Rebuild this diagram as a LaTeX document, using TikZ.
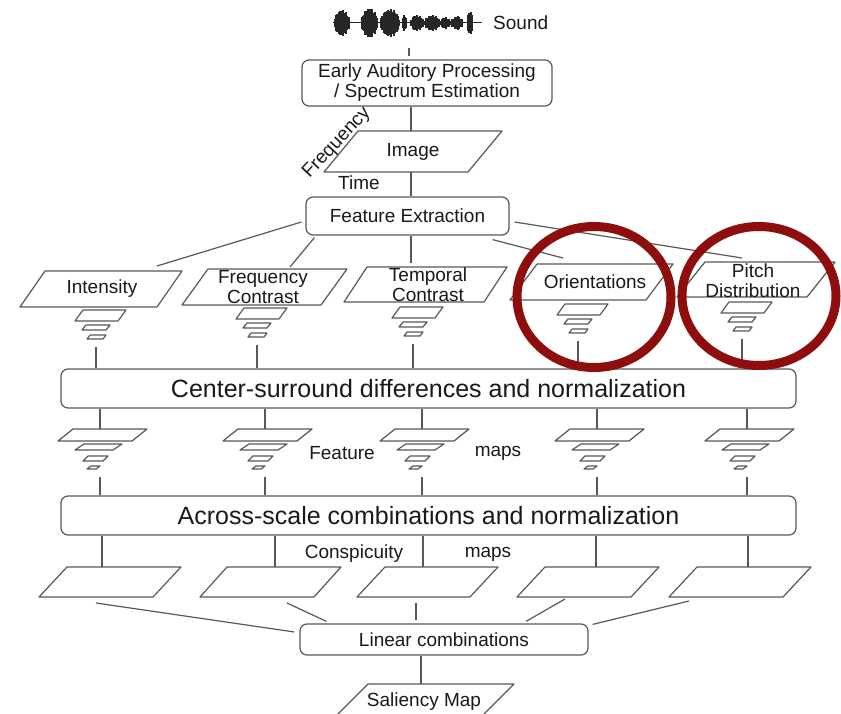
\documentclass[tikz,border=0pt]{standalone}
\usepackage{fontspec}
\setmainfont{Liberation Sans}
\usetikzlibrary{calc}

\definecolor{ink}{RGB}{88,88,88}
\definecolor{txt}{RGB}{25,25,25}
\definecolor{hilite}{RGB}{142,14,14}

\newcommand\fsz[1]{\fontsize{#1}{20}\selectfont}

% parallelogram: name, bottom-left x, bottom y, width, height, slant
\newcommand\plgram[6]{%
  \draw[plg] (#2,#3) -- ++(#4,0) -- ++(#6,-#5) -- ++(-#4,0) -- cycle;
  \coordinate (#1) at (#2+#4/2+#6/2,#3-#5/2);
  \coordinate (#1-t) at (#2+#6+#4/2,#3-#5);
  \coordinate (#1-b) at (#2+#4/2,#3);
}

% three-level scale pyramid: name, centre x, top y
\newcommand\pyrsmall[3]{%
  \begin{scope}[shift={(#2,#3)}]
    \draw[plg] (-21,11) -- (22,11) -- (30,0) -- (-13,0) -- cycle;
    \draw[plg] (-14,20) -- (10,20) -- (14,15) -- (-10,15) -- cycle;
    \draw[plg] (-9,29) -- (7,29) -- (10,25) -- (-6,25) -- cycle;
    \coordinate (#1-t) at (0,0);
    \coordinate (#1-b) at (0,37);
  \end{scope}}

% four-level scale pyramid: name, centre x, top y
\newcommand\pyrbig[3]{%
  \begin{scope}[shift={(#2,#3)}]
    \draw[plg] (-42,12) -- (32,12) -- (47,0) -- (-27,0) -- cycle;
    \draw[plg] (-25,21) -- (13,21) -- (22,15) -- (-16,15) -- cycle;
    \draw[plg] (-17,32) -- (3,32) -- (8,27) -- (-12,27) -- cycle;
    \draw[plg] (-13,40) -- (-4,40) -- (0,37) -- (-9,37) -- cycle;
    \coordinate (#1-t) at (0,0);
    \coordinate (#1-b) at (0,48);
  \end{scope}}

\begin{document}
\begin{tikzpicture}[x=1pt,y=-1pt,
  conn/.style={draw=ink,line width=1.2pt},
  plg/.style={draw=ink,line width=1.2pt,line join=round},
  box/.style={draw=ink,line width=1.2pt,rounded corners=7pt,inner sep=0pt,
              text=txt,align=center,font=\fsz{19}},
  bigbox/.style={box,font=\fsz{25}},
  lbl/.style={inner sep=0pt,text=txt,align=center,font=\fsz{19}},
  wave/.style={draw=black!85,line width=1.5pt},
  ring/.style={draw=hilite,line width=9pt}]

\useasboundingbox (0,0) rectangle (841,714);
\clip (0,0) rectangle (841,714);

% ---- sound waveform ----
\draw[wave,line width=1pt] (333,23) -- (482,23);
\foreach \s/\e/\a in {334/350/13, 361/378/15, 380/400/14, 402/407/8,
                      410/424/8, 424/440/8, 440/451/6, 451/463/7, 467/473/12}{
  \foreach \x in {\s,...,\e}{
    \pgfmathsetmacro\h{\a*sqrt(abs(sin(180*(\x-\s)/(\e-\s))))*(0.55+0.45*abs(sin(mod(\x,17)*53+\x*3)))}
    \draw[wave] (\x,23-\h) -- (\x,23+\h);
  }}
\coordinate (snd-b) at (409,48);
\node[lbl,anchor=west] (sound) at (493,23) {Sound};

% main vertical axis
\coordinate (ax) at (411,0);

% ---- front end ----
\node[box,minimum width=250,minimum height=46] (ea) at (427,83)
  {Early Auditory Processing\\/ Spectrum Estimation};
\plgram{pimg}{324}{172}{144}{41}{34}
\node[lbl] (img) at (413,152) {Image};
\node[lbl,rotate=47] (freqax) at (337,143) {Frequency};
\node[lbl] (timeax) at (359,183) {Time};
\node[box,minimum width=203,minimum height=38] (fe) at (407.5,216) {Feature Extraction};

\draw[conn] (snd-b) -- ($(snd-b |- ea.north)+(0,-3)$);
\draw[conn] (ax |- ea.south) -- (ax |- pimg-t);
\draw[conn] (ax |- pimg-b) -- (ax |- fe.north);

% ---- feature channels ----
\plgram{pint}{20}{307}{137}{36}{25}
\plgram{pfrq}{182}{305}{139}{36}{26}
\plgram{ptmp}{344}{302}{140}{35}{23}
\plgram{pori}{510}{300}{136}{36}{27}
\plgram{ppit}{677}{297}{130}{35}{28}
\node[lbl] (lint) at (102,289) {Intensity};
\node[lbl] (lfrq) at (263,287) {Frequency\\Contrast};
\node[lbl] (ltmp) at (428,285) {Temporal\\Contrast};
\node[lbl] (lori) at (595,282) {Orientations};
\node[lbl] (lpit) at (753,280.5) {Pitch\\Distribution};

\draw[conn] ($(fe.west)+(-4,6)$) -- ($(pint-t)+(43.5,-5)$);
\draw[conn] ($(fe.south west)+(9,2)$) -- ($(pfrq-t)+(12.5,-2)$);
\draw[conn] (ax |- fe.south) -- ($(ax |- ptmp-t)+(0,-4)$);
\draw[conn] ($(fe.south east)+(-17,4)$) -- ($(pori-t)+(-42,-6)$);
\draw[conn] ($(fe.east)+(5,6)$) -- ($(ppit-t)+(-28,-4)$);

% ---- pyramids of the feature channels ----
\pyrsmall{qi}{96}{310}
\pyrsmall{qf}{257}{308}
\pyrsmall{qt}{413}{307}
\pyrsmall{qo}{578}{304}
\pyrsmall{qp}{742}{302}

\node[bigbox,minimum width=735,minimum height=39] (cs) at (428.5,388.5)
  {Center-surround differences and normalization};
\foreach \q in {qi,qf,qt,qo,qp}
  \draw[conn] (\q-b) -- (\q-b |- cs.north);

% ---- feature maps ----
\pyrbig{m1}{100}{429}
\pyrbig{m2}{265}{429}
\pyrbig{m3}{422}{429}
\pyrbig{m4}{597}{429}
\pyrbig{m5}{747}{429}
\node[lbl] (featw) at (342,453) {Feature};
\node[lbl] (mapsw) at (498,453) {maps};

\node[bigbox,minimum width=735,minimum height=39] (as) at (428.5,515.5)
  {Across-scale combinations and normalization};
\foreach \m in {m1,m2,m3,m4,m5}{
  \draw[conn] (\m-t |- cs.south) -- (\m-t);
  \draw[conn] (\m-b) -- (\m-b |- as.north);
}

% ---- conspicuity maps ----
\plgram{k1}{39}{597}{114}{30}{28}
\plgram{k2}{200}{597}{114}{30}{27}
\plgram{k3}{357}{597}{113}{30}{28}
\plgram{k4}{517}{597}{114}{30}{28}
\plgram{k5}{669}{597}{114}{30}{28}
\node[lbl] (consw) at (354,554) {Conspicuity};
\node[lbl] (mapsc) at (488,554) {maps};

\path ($(k1-t)+(-22,0)$) coordinate (k1-in)
      ($(k2-t)+(-9,0)$) coordinate (k2-in)
      ($(k3-t)+(-18.5,0)$) coordinate (k3-in)
      ($(k4-t)+(-6,0)$) coordinate (k4-in)
      ($(k5-t)+(-6,0)$) coordinate (k5-in);
\foreach \k in {k1,k2,k3,k4,k5}
  \draw[conn] (\k-in |- as.south) -- (\k-in);

% ---- linear combination and saliency ----
\node[box,minimum width=288,minimum height=31] (lc) at (444,639.5) {Linear combinations};
\draw[conn] ($(k1-b)+(0,6)$) -- ($(lc.west)+(-5,-7.5)$);
\draw[conn] ($(k2-b)+(30,6)$) -- ($(lc.north west)+(27,-2)$);
\draw[conn] ($(k3-b)+(2.5,6)$) -- ($(lc.north)+(-28,-3)$);
\draw[conn] ($(k4-b)+(-9,2)$) -- ($(lc.north)+(82,-2)$);
\draw[conn] ($(k5-b)+(-37,4)$) -- ($(lc.north east)+(4,1)$);

\plgram{psal}{337}{715}{146}{31}{31}
\node[lbl] (lsal) at (424,702) {Saliency Map};
\path ($(psal-t)+(-20,0)$) coordinate (sal-in);
\draw[conn] (sal-in |- lc.south) -- (sal-in);

% ---- highlight rings ----
\draw[ring] (594,297) ellipse [x radius=77, y radius=70.5];
\draw[ring] (759,296) ellipse [x radius=77, y radius=69.5];

\end{tikzpicture}
\end{document}
